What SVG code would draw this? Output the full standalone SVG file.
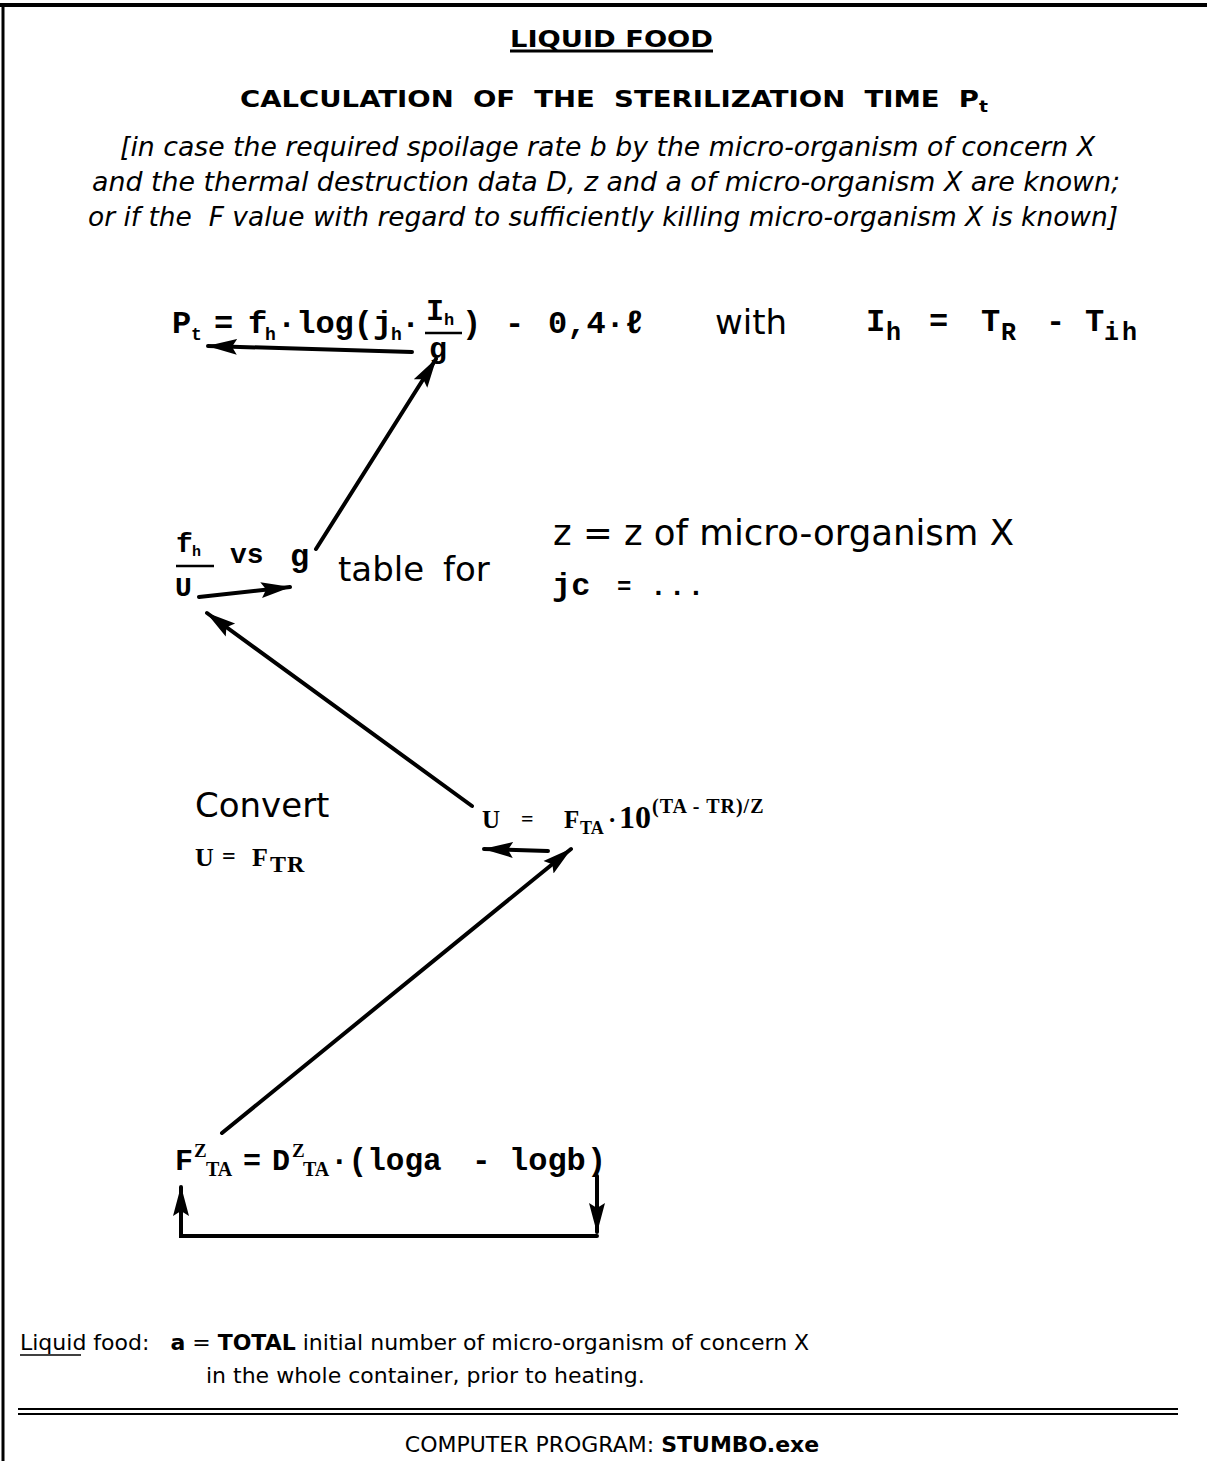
<svg xmlns="http://www.w3.org/2000/svg" width="1207" height="1461" viewBox="0 0 1207 1461">
<style>
.sans{font-family:"DejaVu Sans",Verdana,sans-serif;fill:#000}
.mono{font-family:"Liberation Mono","DejaVu Sans Mono",monospace;font-weight:bold;fill:#000}
.serif{font-family:"Liberation Serif","DejaVu Serif",serif;font-weight:bold;fill:#000}
.conn{stroke:#000;stroke-width:4;fill:none;stroke-linecap:round}
.rule{stroke:#000;fill:none}
</style>
<defs>
<marker id="ah" markerUnits="userSpaceOnUse" markerWidth="32" markerHeight="20" refX="29" refY="10" orient="auto">
<path d="M0,2 L30,10 L0,18 L5,10 z" fill="#000"/>
</marker>
</defs>
<rect width="1207" height="1461" fill="#fff"/>
<g id="frame">
<line class="rule" x1="0" y1="5" x2="1207" y2="5" stroke-width="4"/>
<line class="rule" x1="3" y1="5" x2="3" y2="1461" stroke-width="3"/>
</g>
<g id="header">
<text class="sans" x="510" y="47" font-size="23" font-weight="bold" textLength="203" lengthAdjust="spacingAndGlyphs">LIQUID FOOD</text>
<line class="rule" x1="510" y1="51" x2="713" y2="51" stroke-width="3"/>
<text class="sans" x="240" y="107" font-size="23.5" font-weight="bold" xml:space="preserve" textLength="748" lengthAdjust="spacingAndGlyphs">CALCULATION  OF  THE  STERILIZATION  TIME  P<tspan font-size="16" dy="5">t</tspan></text>
<text class="sans" x="120" y="156" font-size="26" font-style="italic" textLength="975" lengthAdjust="spacingAndGlyphs">[in case the required spoilage rate b by the micro-organism of concern X</text>
<text class="sans" x="92" y="191" font-size="26" font-style="italic" textLength="1028" lengthAdjust="spacingAndGlyphs">and the thermal destruction data D, z and a of micro-organism X are known;</text>
<text class="sans" x="88" y="226" font-size="26" font-style="italic" xml:space="preserve" textLength="1030" lengthAdjust="spacingAndGlyphs">or if the  F value with regard to sufficiently killing micro-organism X is known]</text>
</g>
<g id="node-pt">
<text class="mono" x="172" y="333" font-size="32">P</text>
<text class="mono" x="191" y="340" font-size="18">t</text>
<text class="mono" x="214" y="333" font-size="32">=</text>
<text class="mono" x="248" y="333" font-size="32">f</text>
<text class="mono" x="265" y="340" font-size="18">h</text>
<text class="mono" x="277" y="333" font-size="32">·log(j</text>
<text class="mono" x="391" y="340" font-size="18">h</text>
<text class="mono" x="401" y="333" font-size="32">·</text>
<text class="mono" x="426" y="320" font-size="30">I</text>
<text class="mono" x="444" y="325" font-size="17">h</text>
<line class="rule" x1="425" y1="333" x2="462" y2="333" stroke-width="2.5"/>
<text class="mono" x="429" y="358" font-size="30">g</text>
<text class="mono" x="462" y="333" font-size="32">)</text>
<text class="mono" x="505" y="333" font-size="32">-</text>
<text class="mono" x="548" y="333" font-size="32">0,4·ℓ</text>
</g>
<g id="node-ih">
<text class="sans" x="715" y="334" font-size="34">with</text>
<text class="mono" x="866" y="331" font-size="32">I</text>
<text class="mono" x="886" y="340" font-size="25">h</text>
<text class="mono" x="929" y="331" font-size="32">=</text>
<text class="mono" x="981" y="331" font-size="32">T</text>
<text class="mono" x="1001" y="340" font-size="25">R</text>
<text class="mono" x="1046" y="331" font-size="32">-</text>
<text class="mono" x="1085" y="331" font-size="32">T</text>
<text class="mono" x="1104" y="340" font-size="25" letter-spacing="3">ih</text>
</g>
<g id="node-table">
<text class="mono" x="176" y="552" font-size="28">f</text>
<text class="mono" x="192" y="556" font-size="15">h</text>
<line class="rule" x1="176" y1="566" x2="214" y2="566" stroke-width="2.5"/>
<text class="mono" x="175" y="596" font-size="28">U</text>
<text class="mono" x="230" y="563" font-size="28">vs</text>
<text class="mono" x="290" y="566" font-size="32">g</text>
<text class="sans" x="338" y="581" font-size="34">table</text>
<text class="sans" x="443" y="581" font-size="34">for</text>
</g>
<g id="node-z">
<text class="sans" x="553" y="545" font-size="35.5">z = z of micro-organism X</text>
<text class="mono" x="552" y="595" font-size="32">jc</text>
<text class="mono" x="617" y="594" font-size="24">=</text>
<text class="mono" x="650" y="595" font-size="28" letter-spacing="2">...</text>
</g>
<g id="node-convert">
<text class="sans" x="195" y="817" font-size="34">Convert</text>
<text class="serif" x="195" y="866" font-size="26">U</text>
<text class="serif" x="222" y="864" font-size="24">=</text>
<text class="serif" x="252" y="866" font-size="26">F</text>
<text class="serif" x="270" y="872" font-size="24" letter-spacing="1">TR</text>
</g>
<g id="node-u">
<text class="serif" x="482" y="828" font-size="25">U</text>
<text class="serif" x="521" y="826" font-size="22">=</text>
<text class="serif" x="564" y="828" font-size="25">F</text>
<text class="serif" x="580" y="834" font-size="18">TA</text>
<text class="serif" x="608" y="828" font-size="25">·</text>
<text class="serif" x="619" y="828" font-size="32">10</text>
<text class="serif" x="652" y="813" font-size="20" letter-spacing="1" xml:space="preserve">(TA - TR)/Z</text>
</g>
<g id="node-f">
<text class="mono" x="175" y="1170" font-size="30">F</text>
<text class="serif" x="194" y="1157" font-size="19">Z</text>
<text class="serif" x="206" y="1176" font-size="20">TA</text>
<text class="mono" x="243" y="1170" font-size="30">=</text>
<text class="mono" x="272" y="1170" font-size="30">D</text>
<text class="serif" x="292" y="1157" font-size="19">Z</text>
<text class="serif" x="303" y="1176" font-size="20">TA</text>
<text class="mono" x="330" y="1170" font-size="31">·(loga</text>
<text class="mono" x="472" y="1170" font-size="31">-</text>
<text class="mono" x="509" y="1170" font-size="32">logb</text>
<text class="mono" x="587" y="1170" font-size="32">)</text>
</g>
<g id="connectors">
<path class="conn" d="M412,352 L208,346" marker-end="url(#ah)"/>
<path class="conn" d="M316,549 L436,359" marker-end="url(#ah)"/>
<path class="conn" d="M199,597 L290,587" marker-end="url(#ah)"/>
<path class="conn" d="M472,806 L207,613" marker-end="url(#ah)"/>
<path class="conn" d="M548,851 L484,849" marker-end="url(#ah)"/>
<path class="conn" d="M222,1133 L571,849" marker-end="url(#ah)"/>
<path class="conn" d="M597,1176 L597,1232" marker-end="url(#ah)"/>
<path class="conn" d="M597,1236 L181,1236 L181,1187" marker-end="url(#ah)"/>
</g>
<g id="footer">
<text class="sans" x="20" y="1350" font-size="22" xml:space="preserve">Liquid food:   <tspan font-weight="bold">a</tspan> = <tspan font-weight="bold">TOTAL</tspan> initial number of micro-organism of concern X</text>
<line class="rule" x1="20" y1="1355" x2="81" y2="1355" stroke-width="1.5"/>
<text class="sans" x="206" y="1383" font-size="22">in the whole container, prior to heating.</text>
<line class="rule" x1="18" y1="1409" x2="1178" y2="1409" stroke-width="2"/>
<line class="rule" x1="18" y1="1414" x2="1178" y2="1414" stroke-width="2"/>
<text class="sans" x="612" y="1452" font-size="22" text-anchor="middle">COMPUTER PROGRAM: <tspan font-weight="bold">STUMBO.exe</tspan></text>
</g>
</svg>
